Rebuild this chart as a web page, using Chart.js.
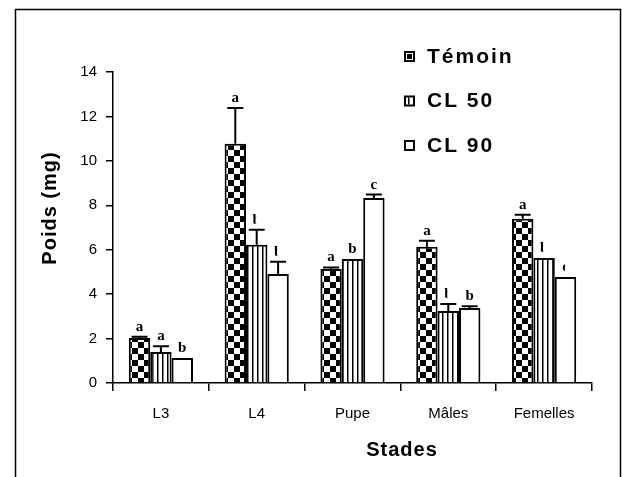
<!DOCTYPE html>
<html>
<head>
<meta charset="utf-8">
<script src="https://cdn.jsdelivr.net/npm/chart.js@4.4.0/dist/chart.umd.min.js"></script>
<style>
  html, body { margin: 0; padding: 0; background: #fff; }
</style>
</head>
<body>
<canvas id="poids" width="622" height="477"></canvas>
<script>
// stades et poids moyens (mg)
var stades = ["L3", "L4", "Pupe", "Mâles", "Femelles"];
var temoin = [2.03, 10.77, 5.13, 6.13, 7.39];
var cl50 = [1.40, 6.22, 5.58, 3.24, 5.63];
var cl90 = [1.13, 4.91, 8.33, 3.38, 4.77];

// écarts-types
var errTemoin = [0.05, 1.61, 0.07, 0.27, 0.18];
var errCl50 = [0.25, 0.68, 0, 0.32, 0];
var errCl90 = [0, 0.55, 0.15, 0.08, 0];

// lettres de signification
var lettresTemoin = ["a", "a", "a", "a", "a"];
var lettresCl50 = ["a", "b", "b", "b", "b"];
var lettresCl90 = ["b", "b", "c", "b", "c"];

var yTicks = [0, 2, 4, 6, 8, 10, 12, 14];

var canvas = document.getElementById("poids");
var ctx = canvas.getContext("2d");

// motif damier
function damier() {
  var c = document.createElement("canvas");
  c.width = 12; c.height = 12;
  var g = c.getContext("2d");
  g.fillStyle = "#fff"; g.fillRect(0, 0, 12, 12);
  g.fillStyle = "#000";
  g.fillRect(0, 0, 6, 6);
  g.fillRect(6, 6, 6, 6);
  return ctx.createPattern(c, "repeat");
}

// motif rayures verticales
function rayures() {
  var c = document.createElement("canvas");
  c.width = 5; c.height = 4;
  var g = c.getContext("2d");
  g.fillStyle = "#fff"; g.fillRect(0, 0, 5, 4);
  g.fillStyle = "#000"; g.fillRect(2, 0, 1.5, 4);
  return ctx.createPattern(c, "repeat");
}

// lettres tronquées (jeu de données, indice)
var coupees = ["1-1", "1-3", "1-4", "2-1", "2-4"];

var barres = {
  id: "barres",
  beforeDraw: function (chart) {
    var c = chart.ctx;
    c.save();
    c.fillStyle = "#fff";
    c.fillRect(0, 0, chart.width, chart.height);
    c.strokeStyle = "#000";
    c.lineWidth = 1.5;
    c.strokeRect(15.5, 9.5, 605, 520);
    c.restore();
  },
  afterDatasetsDraw: function (chart) {
    var c = chart.ctx;
    var y = chart.scales.y;
    c.save();
    chart.data.datasets.forEach(function (ds, i) {
      chart.getDatasetMeta(i).data.forEach(function (bar, j) {
        var e = ds.erreurs[j];
        var haut = y.getPixelForValue(ds.data[j] + e);
        if (e > 0) {
          c.strokeStyle = "#000";
          c.lineWidth = 2;
          c.beginPath();
          c.moveTo(bar.x, bar.y);
          c.lineTo(bar.x, haut);
          c.moveTo(bar.x - 8, haut);
          c.lineTo(bar.x + 8, haut);
          c.stroke();
        }
        c.save();
        if (coupees.indexOf(i + "-" + j) >= 0) {
          c.beginPath();
          c.rect(bar.x - 20, haut - 30, 19.5, 30);
          c.clip();
        }
        c.fillStyle = "#000";
        c.font = 'bold 15px "Liberation Serif"';
        c.textAlign = "center";
        c.textBaseline = "alphabetic";
        c.fillText(ds.lettres[j], bar.x, haut - 6);
        c.restore();
      });
    });
    c.restore();
  },
  afterDraw: function (chart) {
    var c = chart.ctx;
    var a = chart.chartArea;
    c.save();
    c.fillStyle = "#000";
    c.font = 'bold 20px "Liberation Sans"';
    c.letterSpacing = "1px";
    c.textAlign = "center";
    c.textBaseline = "middle";
    c.fillText("Stades", a.left + 289, 450);
    c.translate(a.left - 63, 208);
    c.rotate(-Math.PI / 2);
    c.fillText("Poids (mg)", 0, 0);
    c.restore();

    // légende
    c.save();
    c.font = 'bold 21px "Liberation Sans"';
    c.letterSpacing = "2px";
    c.textBaseline = "middle";
    c.strokeStyle = "#000";
    c.fillStyle = "#000";
    c.lineWidth = 2;
    chart.data.datasets.forEach(function (ds, i) {
      var ly = 57 + i * 44.5;
      c.strokeRect(405, ly - 5, 9, 9);
      if (i === 0) c.fillRect(407, ly - 3, 5, 5);
      if (i === 1) c.fillRect(408, ly - 4, 1.5, 7);
      c.fillText(ds.label, 427, ly);
    });
    c.restore();
  }
};

var police = { family: '"Liberation Sans", Arial', size: 15 };

new Chart(canvas, {
  type: "bar",
  data: {
    labels: stades,
    datasets: [
      { label: "Témoin", data: temoin, erreurs: errTemoin, lettres: lettresTemoin, backgroundColor: damier() },
      { label: "CL 50", data: cl50, erreurs: errCl50, lettres: lettresCl50, backgroundColor: rayures() },
      { label: "CL 90", data: cl90, erreurs: errCl90, lettres: lettresCl90, backgroundColor: "#fff" }
    ]
  },
  options: {
    responsive: false,
    animation: false,
    devicePixelRatio: 1,
    datasets: {
      bar: { borderColor: "#000", borderWidth: 2, barPercentage: 1, categoryPercentage: 0.67 }
    },
    layout: { padding: { top: 72, right: 30, left: 0, bottom: 0 } },
    plugins: { legend: { display: false }, tooltip: { enabled: false } },
    scales: {
      x: {
        grid: { drawOnChartArea: false, tickLength: 8, color: "#000", lineWidth: 1.5, offset: true },
        border: { color: "#000", width: 1.5 },
        ticks: { color: "#000", font: police, padding: 14 },
        afterFit: function (s) { s.height = 94; }
      },
      y: {
        min: 0, max: 14,
        grid: { drawOnChartArea: false, tickLength: 7, color: "#000", lineWidth: 1.5 },
        border: { color: "#000", width: 1.5 },
        ticks: { color: "#000", font: police, padding: 9 },
        afterBuildTicks: function (s) { s.ticks = yTicks.map(function (v) { return { value: v }; }); },
        afterFit: function (s) { s.width = 113; }
      }
    }
  },
  plugins: [barres]
});
</script>
</body>
</html>
